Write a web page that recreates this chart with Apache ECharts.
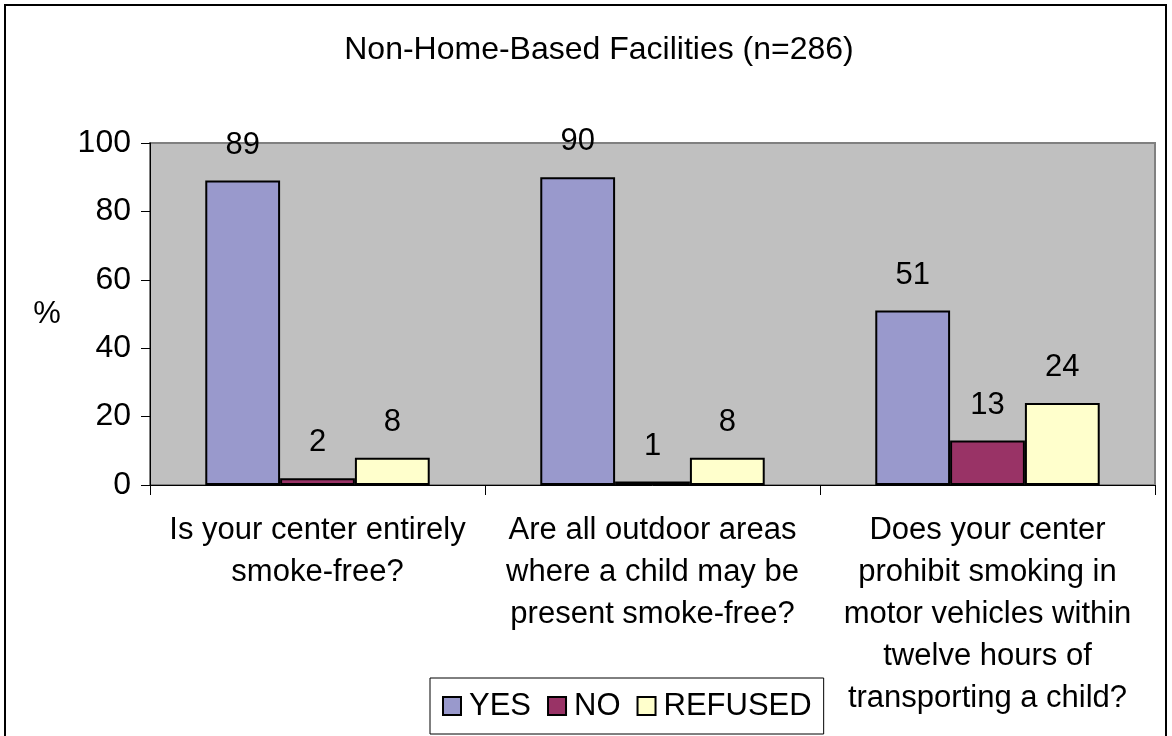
<!DOCTYPE html>
<html>
<head>
<meta charset="utf-8">
<script src="https://cdn.jsdelivr.net/npm/echarts@6/dist/echarts.min.js"></script>
<style>html,body{margin:0;padding:0;background:#fff}#c{width:1172px;height:736px}</style>
</head>
<body>
<div id="c"></div>
<script>
const categories = [
  "Is your center entirely\nsmoke-free?",
  "Are all outdoor areas\nwhere a child may be\npresent smoke-free?",
  "Does your center\nprohibit smoking in\nmotor vehicles within\ntwelve hours of\ntransporting a child?"
];
const seriesNames = ["YES", "NO", "REFUSED"];
const yesValues = [89, 90, 51];
const noValues = [2, 1, 13];
const refusedValues = [8, 8, 24];
const yTicks = [0, 20, 40, 60, 80, 100];
const colors = ["#9999CC", "#993366", "#FFFFCC"];

const FONT = "Liberation Sans, Arial, sans-serif";
const chart = echarts.init(document.getElementById('c'));
const values = [yesValues, noValues, refusedValues];

chart.setOption({
  animation: false,
  backgroundColor: '#ffffff',
  textStyle: { fontFamily: FONT, color: '#000' },
  title: {
    text: 'Non-Home-Based Facilities (n=286)',
    left: 594, top: 29, textAlign: 'center',
    textStyle: { fontFamily: FONT, fontSize: 32, fontWeight: 'normal', color: '#000' }
  },
  graphic: [
    { type: 'rect', shape: { x: 5, y: 5, width: 1161, height: 745 }, style: { fill: 'none', stroke: '#000', lineWidth: 2 }, silent: true, z: -1 },
    { type: 'text', x: 47, y: 314, style: { text: '%', fontFamily: FONT, fontSize: 31, fill: '#000', textAlign: 'center', textVerticalAlign: 'middle' } }
  ],
  legend: {
    data: seriesNames,
    icon: 'rect',
    left: 430, top: 678,
    orient: 'horizontal',
    padding: [12, 12, 12, 12],
    itemWidth: 18, itemHeight: 18, itemGap: 16,
    backgroundColor: '#ffffff',
    borderColor: '#000', borderWidth: 1,
    textStyle: { fontFamily: FONT, fontSize: 31, color: '#000', lineHeight: 32, padding: [0, 0, 0, 3] },
    selectedMode: false
  },
  grid: {
    left: 150, right: 17, top: 143, bottom: 251,
    show: true, backgroundColor: '#C0C0C0', borderColor: '#808080', borderWidth: 2
  },
  xAxis: {
    type: 'category',
    data: categories,
    axisLine: { lineStyle: { color: '#000', width: 1 } },
    axisTick: { show: true, length: 10, lineStyle: { color: '#000' } },
    axisLabel: {
      interval: 0, margin: 24, fontFamily: FONT, fontSize: 31, lineHeight: 42, color: '#000', align: 'center'
    }
  },
  yAxis: {
    type: 'value',
    min: yTicks[0], max: yTicks[yTicks.length - 1], interval: 20,
    axisLine: { show: true, lineStyle: { color: '#000', width: 1 } },
    axisTick: { show: true, length: 9, lineStyle: { color: '#000' } },
    splitLine: { show: false },
    axisLabel: { margin: 19, fontFamily: FONT, fontSize: 32, color: '#000' }
  },
  series: seriesNames.map((name, i) => ({
    name: name,
    type: 'bar',
    data: values[i],
    barGap: '0%',
    barCategoryGap: '33%',
    itemStyle: { color: colors[i], borderColor: '#000', borderWidth: 2 },
    label: { show: true, position: 'top', distance: 20, fontFamily: FONT, fontSize: 31, color: '#000' }
  }))
});
</script>
</body>
</html>
